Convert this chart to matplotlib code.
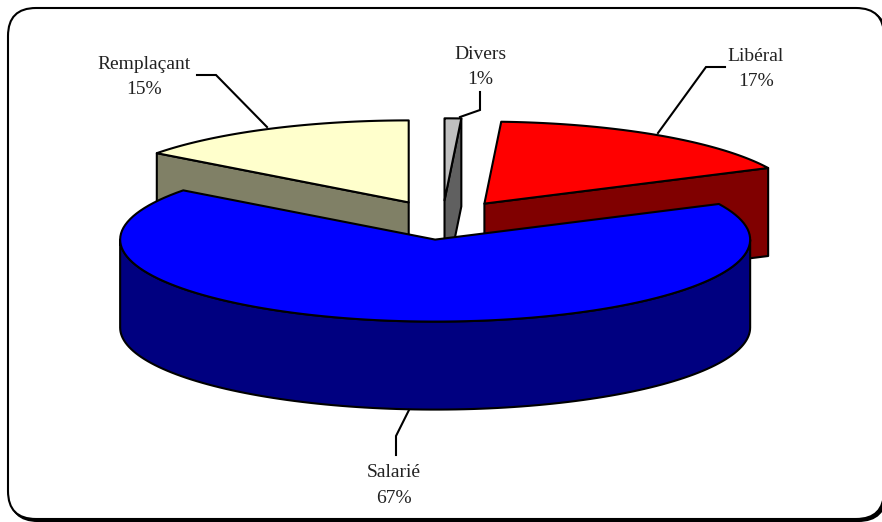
import numpy as np
import matplotlib
matplotlib.use("Agg")
import matplotlib.pyplot as plt
from matplotlib.patches import FancyBboxPatch, Polygon

# slices, clockwise from 12 o'clock
labels = ["Divers", "Libéral", "Salarié", "Remplaçant"]
values = [0.85, 17.0, 67.4, 14.75]
top_colors = ["#C0C0C0", "#FF0000", "#0000FF", "#FFFFCC"]
side_colors = ["#606060", "#800000", "#000080", "#808066"]

# label text centre and leader line for each slice, in pixels
label_pos = [(480, 67), (756, 69), (394, 485.5), (144, 77)]
leaders = [
    [(460, 117), (480, 110), (480, 92)],
    [(658, 133), (706, 67), (725, 67)],
    [(409, 410), (396, 436), (396, 455)],
    [(267, 127), (216, 75), (197, 75)],
]

# pie geometry
cx, cy = 442.5, 220
rx, ry = 315, 82
depth = 88
explode = 0.24


def rim(a, ox, oy):
    # a in degrees, counter clockwise, y axis points down
    a = np.radians(a)
    return np.column_stack([ox + rx * np.cos(a), oy - ry * np.sin(a)])


fig = plt.figure(figsize=(8.82, 5.22), dpi=100)
ax = fig.add_axes([0, 0, 1, 1])
ax.set_xlim(0, 882)
ax.set_ylim(522, 0)
ax.axis("off")

# chart frame with its shadow
ax.add_patch(FancyBboxPatch((10, 10), 876, 511, boxstyle="round,pad=0,rounding_size=28",
                            fc="black", ec="black", lw=1.5))
ax.add_patch(FancyBboxPatch((8, 8), 876, 511, boxstyle="round,pad=0,rounding_size=28",
                            fc="white", ec="black", lw=1.5))

# slice angles
ends = 90 - np.cumsum(values) * 3.6
starts = ends + np.array(values) * 3.6
mids = (starts + ends) / 2

# back slices first, the big front one last
for i in [3, 0, 1, 2]:
    ox = cx + explode * rx * np.cos(np.radians(mids[i]))
    oy = cy - explode * ry * np.sin(np.radians(mids[i]))
    apex = np.array([[ox, oy]])
    down = np.array([0, depth])
    arc = rim(np.linspace(ends[i], starts[i], 120), ox, oy)

    if i == 2:
        # outer wall of the front slice
        front = rim(np.linspace(180, 360, 120), ox, oy)
        wall = np.vstack([front, front[::-1] + down])
    elif i == 3:
        # cut face on the left side
        edge = rim(np.array([starts[i]]), ox, oy)
        wall = np.vstack([apex, edge, edge + down, apex + down])
    else:
        # cut face on the right side
        edge = rim(np.array([ends[i]]), ox, oy)
        wall = np.vstack([apex, edge, edge + down, apex + down])
    ax.add_patch(Polygon(wall, closed=True, fc=side_colors[i], ec="black", lw=1.5, joinstyle="round"))

    top = np.vstack([apex, arc])
    ax.add_patch(Polygon(top, closed=True, fc=top_colors[i], ec="black", lw=1.5, joinstyle="round"))

for i in range(len(labels)):
    xs, ys = zip(*leaders[i])
    ax.plot(xs, ys, color="black", lw=1.5, solid_joinstyle="miter")
    ax.text(label_pos[i][0], label_pos[i][1], labels[i] + "\n" + "%.0f%%" % values[i],
            family="Liberation Serif", fontsize=14, color="#222222", ha="center", va="center",
            linespacing=1.62)

fig.savefig("out.png", dpi=100)
